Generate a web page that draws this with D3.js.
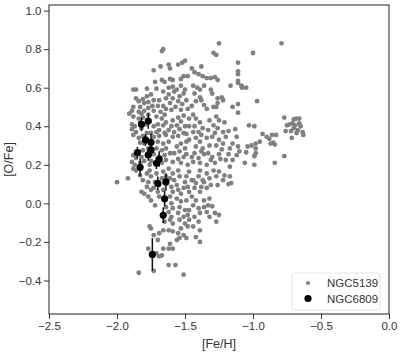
<!DOCTYPE html>
<html>
<head>
<meta charset="utf-8">
<script src="https://cdn.jsdelivr.net/npm/d3@7"></script>
<style>
  body { margin: 0; background: #fff; }
  #chart text { font-family: "Liberation Sans", Arial, sans-serif; fill: #333; }
</style>
</head>
<body>
<div id="chart"></div>
<script>
// [O/Fe] vs [Fe/H] for two clusters

// NGC5139 stars: [Fe/H, O/Fe]
const ngc5139 = [
  [-1.66,0.80],[-1.67,0.79],[-1.25,0.83],[-0.79,0.83],[-1.29,0.78],[-1.27,0.77],[-1.00,0.78],[-1.50,0.74],
  [-1.52,0.73],[-1.55,0.72],[-1.11,0.73],[-1.62,0.72],[-1.61,0.70],[-1.68,0.71],[-1.73,0.69],[-1.45,0.70],
  [-1.38,0.71],
  [-1.11,0.685],[-1.11,0.67],[-1.43,0.68],[-1.40,0.67],[-1.37,0.66],[-1.31,0.65],[-1.34,0.65],[-1.28,0.655],
  [-1.48,0.66],[-1.53,0.645],[-1.51,0.66],[-1.61,0.645],[-1.59,0.64],[-1.67,0.64],[-1.65,0.63],[-1.11,0.635],
  [-1.11,0.625],[-1.26,0.64],[-1.085,0.61],[-1.05,0.60],[-1.08,0.60],[-1.165,0.61],[-1.31,0.59],[-1.44,0.61],
  [-1.41,0.60],[-1.36,0.61],[-1.39,0.59],[-1.53,0.61],[-1.56,0.59],[-1.50,0.59],[-1.72,0.63],[-1.71,0.595],
  [-1.78,0.595],[-1.88,0.59],[-1.86,0.59],[-1.62,0.60],[-1.59,0.605],[-1.58,0.58],[-1.66,0.58],
  [-0.97,0.53],[-1.30,0.57],[-1.26,0.545],[-1.23,0.55],[-1.22,0.535],[-1.26,0.52],[-1.29,0.50],[-1.27,0.50],
  [-1.11,0.515],[-1.11,0.47],[-1.15,0.50],[-1.43,0.57],[-1.39,0.55],[-1.42,0.53],[-1.38,0.535],[-1.36,0.51],
  [-1.45,0.505],[-1.34,0.49],[-1.51,0.57],[-1.54,0.555],[-1.49,0.535],[-1.52,0.515],[-1.55,0.53],[-1.59,0.545],
  [-1.57,0.50],[-1.53,0.485],[-1.48,0.49],[-1.62,0.565],[-1.64,0.545],[-1.69,0.535],[-1.61,0.52],[-1.66,0.505],
  [-1.70,0.505],[-1.64,0.49],[-1.60,0.485],[-1.68,0.475],[-1.75,0.565],[-1.78,0.555],[-1.81,0.54],[-1.77,0.525],
  [-1.73,0.535],[-1.74,0.505],[-1.80,0.52],[-1.77,0.495],[-1.73,0.48],[-1.83,0.50],[-1.80,0.48],[-1.86,0.545],
  [-1.84,0.53],[-1.88,0.50],[-1.89,0.48],[-1.84,0.475],[-1.82,0.465],
  [-0.77,0.445],[-0.70,0.435],[-0.68,0.44],[-0.66,0.44],[-0.71,0.415],[-0.73,0.41],[-0.69,0.405],[-0.66,0.415],
  [-0.65,0.40],[-0.67,0.38],[-0.70,0.39],[-0.72,0.375],[-0.68,0.365],[-0.63,0.355],[-0.75,0.405],[-0.76,0.375],
  [-0.715,0.34],[-0.635,0.37],[-1.03,0.405],[-0.99,0.40],[-1.13,0.385],[-1.12,0.345],
  [-1.27,0.45],[-1.25,0.43],[-1.21,0.42],[-1.32,0.43],[-1.29,0.405],[-1.26,0.39],[-1.33,0.38],[-1.28,0.365],
  [-1.22,0.37],[-1.18,0.375],[-1.34,0.34],[-1.30,0.345],[-1.25,0.33],[-1.20,0.345],
  [-1.44,0.46],[-1.42,0.44],[-1.47,0.44],[-1.39,0.42],[-1.43,0.40],[-1.37,0.39],[-1.40,0.37],[-1.47,0.40],
  [-1.44,0.37],[-1.49,0.36],[-1.38,0.355],[-1.42,0.34],[-1.47,0.33],
  [-1.51,0.455],[-1.55,0.445],[-1.59,0.43],[-1.53,0.425],[-1.56,0.405],[-1.60,0.40],[-1.50,0.40],[-1.54,0.385],
  [-1.58,0.37],[-1.62,0.38],[-1.51,0.365],[-1.55,0.35],[-1.59,0.345],[-1.64,0.355],
  [-1.65,0.46],[-1.67,0.44],[-1.71,0.45],[-1.64,0.42],[-1.66,0.405],[-1.70,0.41],[-1.73,0.40],[-1.69,0.38],
  [-1.71,0.37],[-1.65,0.365],[-1.75,0.365],[-1.69,0.35],[-1.73,0.345],
  [-1.77,0.46],[-1.81,0.445],[-1.84,0.44],[-1.88,0.45],[-1.91,0.465],[-1.83,0.42],[-1.79,0.41],[-1.87,0.40],
  [-1.89,0.41],[-1.82,0.39],[-1.86,0.37],[-1.89,0.385],[-1.78,0.365],[-1.81,0.35],[-1.84,0.34],[-1.88,0.355],
  [-0.98,0.31],[-0.95,0.32],[-0.93,0.36],[-0.90,0.345],[-0.88,0.335],[-0.85,0.315],[-0.86,0.355],[-0.83,0.355],
  [-0.98,0.285],[-0.98,0.26],[-0.99,0.245],[-1.01,0.30],[-1.04,0.295],[-1.05,0.265],[-0.87,0.31],[-0.84,0.305],
  [-0.77,0.245],[-0.84,0.21],[-0.99,0.20],[-1.06,0.21],
  [-1.11,0.295],[-1.10,0.27],[-1.12,0.25],[-1.15,0.31],[-1.17,0.285],[-1.18,0.255],[-1.15,0.225],[-1.20,0.225],
  [-1.17,0.19],[-1.22,0.31],[-1.23,0.28],[-1.27,0.30],[-1.25,0.255],[-1.30,0.24],[-1.24,0.23],[-1.28,0.21],
  [-1.33,0.26],[-1.31,0.225],[-1.34,0.20],[-1.32,0.30],[-1.37,0.285],[-1.36,0.255],
  [-1.39,0.32],[-1.42,0.295],[-1.38,0.27],[-1.43,0.26],[-1.40,0.235],[-1.44,0.215],[-1.39,0.21],[-1.45,0.24],
  [-1.48,0.20],[-1.49,0.32],[-1.53,0.31],[-1.56,0.295],[-1.50,0.285],[-1.54,0.27],[-1.58,0.26],[-1.51,0.24],
  [-1.55,0.23],[-1.59,0.215],[-1.53,0.21],[-1.49,0.255],
  [-1.62,0.32],[-1.66,0.31],[-1.70,0.32],[-1.64,0.285],[-1.67,0.275],[-1.71,0.285],[-1.61,0.26],[-1.65,0.25],
  [-1.69,0.24],[-1.73,0.255],[-1.64,0.225],[-1.67,0.21],[-1.71,0.21],[-1.75,0.22],
  [-1.76,0.32],[-1.80,0.31],[-1.83,0.315],[-1.77,0.285],[-1.81,0.275],[-1.84,0.27],[-1.78,0.25],[-1.82,0.24],
  [-1.86,0.235],[-1.88,0.25],[-1.80,0.22],[-1.83,0.21],[-1.87,0.20],[-1.89,0.215],[-1.76,0.20],
  [-1.16,0.105],[-1.18,0.10],[-1.17,0.14],[-1.21,0.145],[-1.25,0.165],[-1.22,0.12],[-1.27,0.14],[-1.26,0.095],
  [-1.29,0.17],[-1.34,0.155],[-1.32,0.13],[-1.36,0.11],[-1.31,0.095],[-1.34,0.08],[-1.39,0.17],[-1.40,0.14],
  [-1.37,0.12],[-1.42,0.105],[-1.38,0.085],[-1.43,0.08],[-1.39,0.06],[-1.44,0.12],
  [-1.47,0.165],[-1.49,0.14],[-1.45,0.12],[-1.50,0.11],[-1.48,0.085],[-1.51,0.08],[-1.47,0.06],[-1.53,0.05],
  [-1.55,0.17],[-1.59,0.155],[-1.54,0.14],[-1.58,0.12],[-1.61,0.13],[-1.56,0.095],[-1.60,0.085],[-1.55,0.07],
  [-1.59,0.06],[-1.62,0.18],[-1.66,0.165],[-1.64,0.14],[-1.67,0.13],[-1.71,0.155],[-1.65,0.105],[-1.69,0.095],
  [-1.72,0.11],[-1.66,0.07],[-1.70,0.06],[-1.73,0.08],
  [-1.76,0.17],[-1.78,0.155],[-1.75,0.14],[-1.77,0.11],[-1.81,0.12],[-1.78,0.085],[-1.75,0.07],[-1.82,0.06],
  [-1.80,0.05],[-2.00,0.11],[-1.92,0.13],[-1.86,0.17],[-1.83,0.145],[-1.88,0.18],
  [-1.69,0.035],[-1.65,0.015],[-1.61,0.035],[-1.60,0.0],[-1.64,-0.02],[-1.59,-0.025],[-1.62,-0.045],[-1.66,-0.06],
  [-1.60,-0.07],[-1.56,0.025],[-1.53,0.01],[-1.49,0.015],[-1.54,-0.02],[-1.50,-0.035],[-1.55,-0.05],[-1.51,-0.07],
  [-1.48,-0.06],[-1.45,0.035],[-1.42,0.015],[-1.44,-0.01],[-1.40,-0.025],[-1.39,-0.05],[-1.43,-0.07],[-1.47,-0.035],
  [-1.36,0.015],[-1.32,0.025],[-1.33,-0.01],[-1.30,-0.015],[-1.34,-0.045],[-1.28,-0.05],[-1.32,-0.07],[-1.25,-0.06],
  [-1.27,-0.095],[-1.36,-0.02],[-1.75,0.015],[-1.72,-0.01],[-1.77,0.035],
  [-1.75,-0.13],[-1.76,-0.12],[-1.65,-0.095],[-1.61,-0.085],[-1.59,-0.105],[-1.62,-0.14],[-1.66,-0.14],[-1.69,-0.155],
  [-1.59,-0.145],[-1.54,-0.085],[-1.50,-0.105],[-1.53,-0.13],[-1.48,-0.12],[-1.55,-0.155],[-1.51,-0.165],[-1.49,-0.18],
  [-1.54,-0.18],[-1.47,-0.085],[-1.40,-0.095],[-1.44,-0.12],[-1.39,-0.14],[-1.42,-0.175],[-1.39,-0.20],
  [-1.61,-0.21],[-1.59,-0.235],[-1.62,-0.235],[-1.56,-0.19],[-1.73,-0.165],[-1.70,-0.19],[-1.77,-0.235],[-1.71,-0.26],
  [-1.69,-0.275],[-1.66,-0.235],
  [-1.62,-0.32],[-1.57,-0.32],[-1.84,-0.36],[-1.73,-0.35],[-1.51,-0.37],[-1.67,-0.27]
];

// NGC6809 stars with [O/Fe] errors
const ngc6809Fe  = [-1.82, -1.77, -1.79, -1.75, -1.85, -1.77, -1.75, -1.69, -1.83, -1.71, -1.70, -1.64, -1.65, -1.66, -1.74];
const ngc6809O   = [0.41, 0.427, 0.329, 0.317, 0.263, 0.251, 0.277, 0.230, 0.187, 0.208, 0.104, 0.111, 0.024, -0.062, -0.265];
const ngc6809Err = [0.035, 0.04, 0.03, 0.045, 0.03, 0.03, 0.03, 0.04, 0.045, 0.03, 0.035, 0.045, 0.04, 0.04, 0.085];

const xTicks = [-2.5, -2.0, -1.5, -1.0, -0.5, 0.0];
const yTicks = [-0.4, -0.2, 0.0, 0.2, 0.4, 0.6, 0.8, 1.0];
const seriesNames = ["NGC5139", "NGC6809"];

const width = 407, height = 357;
const margin = { top: 5, right: 18, bottom: 43, left: 49 };
const innerWidth = width - margin.left - margin.right;
const innerHeight = height - margin.top - margin.bottom;

const svg = d3.select("#chart")
    .append("svg")
    .attr("width", width)
    .attr("height", height);

const g = svg.append("g")
    .attr("transform", `translate(${margin.left},${margin.top})`);

// Scales
const x = d3.scaleLinear().domain([-2.5, 0]).range([0, innerWidth]);
const y = d3.scaleLinear().domain([-0.574, 1.029]).range([innerHeight, 0]);

// NGC5139 scatter
g.selectAll(".omega")
    .data(ngc5139)
    .enter()
    .append("circle")
    .attr("class", "omega")
    .attr("cx", d => x(d[0]))
    .attr("cy", d => y(d[1]))
    .attr("r", 2.4)
    .attr("fill", "#808080");

// NGC6809 with error bars
const m55 = ngc6809Fe.map((fe, i) => ({ fe: fe, o: ngc6809O[i], err: ngc6809Err[i] }));

g.selectAll(".errbar")
    .data(m55)
    .enter()
    .append("line")
    .attr("class", "errbar")
    .attr("x1", d => x(d.fe))
    .attr("x2", d => x(d.fe))
    .attr("y1", d => y(d.o - d.err))
    .attr("y2", d => y(d.o + d.err))
    .attr("stroke", "#111")
    .attr("stroke-width", 1.5);

g.selectAll(".m55")
    .data(m55)
    .enter()
    .append("circle")
    .attr("class", "m55")
    .attr("cx", d => x(d.fe))
    .attr("cy", d => y(d.o))
    .attr("r", 3.6)
    .attr("fill", "#000");

// Axes
const fmt = d3.format(".1f");
const xAxis = g.append("g")
    .attr("transform", `translate(0,${innerHeight})`)
    .call(d3.axisBottom(x).tickValues(xTicks).tickFormat(fmt).tickSize(5).tickPadding(3));
const yAxis = g.append("g")
    .call(d3.axisLeft(y).tickValues(yTicks).tickFormat(fmt).tickSize(5).tickPadding(2.5));

[xAxis, yAxis].forEach(a => {
    a.select(".domain").remove();
    a.selectAll("line").attr("stroke", "#333").attr("stroke-width", 1);
    a.selectAll("text").attr("font-size", "11.5px").attr("fill", "#333");
});

// Frame
g.append("rect")
    .attr("width", innerWidth)
    .attr("height", innerHeight)
    .attr("fill", "none")
    .attr("stroke", "#333")
    .attr("stroke-width", 1.1);

// Axis labels
g.append("text")
    .attr("x", innerWidth / 2)
    .attr("y", innerHeight + 34)
    .attr("text-anchor", "middle")
    .attr("font-size", "12.5px")
    .text("[Fe/H]");

g.append("text")
    .attr("transform", "rotate(-90)")
    .attr("x", -innerHeight / 2)
    .attr("y", -36)
    .attr("text-anchor", "middle")
    .attr("font-size", "12.5px")
    .text("[O/Fe]");

// Legend
const legend = g.append("g")
    .attr("transform", `translate(${innerWidth - 97},${innerHeight - 41})`);

legend.append("rect")
    .attr("width", 88)
    .attr("height", 37)
    .attr("rx", 2.5)
    .attr("fill", "#fff")
    .attr("fill-opacity", 0.8)
    .attr("stroke", "#ddd")
    .attr("stroke-width", 0.8);

legend.append("circle").attr("cx", 16).attr("cy", 10).attr("r", 2).attr("fill", "#808080");
legend.append("circle").attr("cx", 16).attr("cy", 25.5).attr("r", 3.6).attr("fill", "#000");

legend.selectAll(".ltext")
    .data(seriesNames)
    .enter()
    .append("text")
    .attr("class", "ltext")
    .attr("x", 35)
    .attr("y", (d, i) => 14 + i * 15.5)
    .attr("font-size", "11.5px")
    .text(d => d);
</script>
</body>
</html>
